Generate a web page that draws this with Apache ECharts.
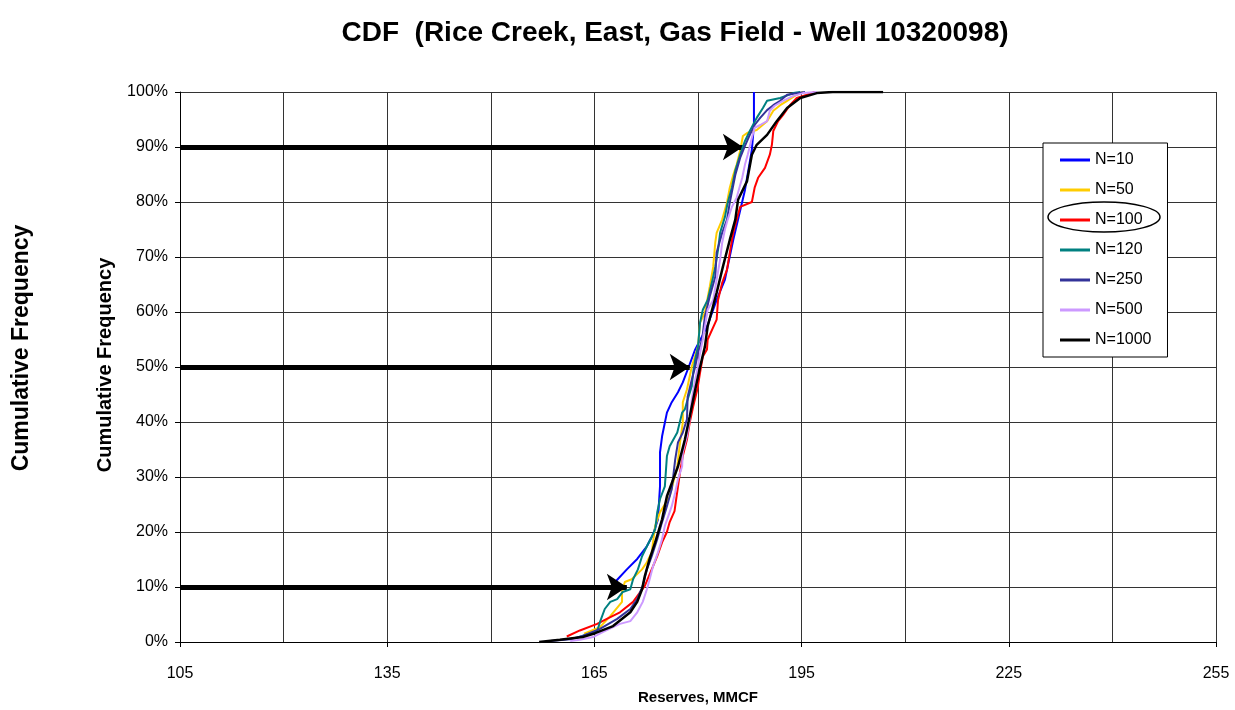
<!DOCTYPE html>
<html>
<head>
<meta charset="utf-8">
<script src="https://cdn.jsdelivr.net/npm/echarts@6/dist/echarts.min.js"></script>
<style>html,body{margin:0;padding:0;background:#fff}#c{width:1235px;height:710px}</style>
</head>
<body>
<div id="c"></div>
<script>
// ---- data (x = Reserves MMCF, y = cumulative frequency %) ----
const seriesNames = ['N=10','N=50','N=100','N=120','N=250','N=500','N=1000'];
const seriesColors = ['#0000FF','#FFCC00','#FF0000','#008080','#333399','#CC99FF','#000000'];

const n10 = [[167.6,10],[168.0,10.9],[169.7,13.2],[171.2,15.1],[172.6,17.4],[173.5,19.6],[174.2,22.3],[174.5,28.3],[174.5,34.5],[174.8,37.4],[175.5,41.7],[176.2,43.6],[177.1,45.4],[177.8,47.2],[178.5,49.5],[179.6,53.2],[181.3,57.3],[182.7,62.2],[183.9,65.9],[185.1,73.1],[186.8,82.2],[187.8,89.5],[188.1,94],[188.1,100]];

const n50 = [[163.5,1.5],[165.8,2.7],[167.3,4.7],[169.0,7.3],[169.0,9.1],[169.4,10.9],[170.4,11.4],[171.9,13.2],[172.6,14.5],[173.3,16.3],[173.8,21.1],[174.5,23.6],[175.9,26.5],[177.0,31.9],[177.4,36.3],[177.8,39.9],[177.8,43.6],[178.4,45.9],[179.1,50.1],[180.0,53.7],[180.3,58.1],[181.0,59.9],[181.7,64.6],[182.2,68.2],[182.5,72.6],[182.7,74.4],[183.5,76.8],[184.2,79.9],[184.6,82.6],[185.1,84.9],[185.6,86.8],[186.1,89.3],[186.5,92.0],[187.2,92.6],[188.5,93.1],[190.0,94.7],[190.9,96.6],[191.9,97.6],[192.9,98.4],[194.3,99.5],[195.2,100]];

const n100 = [[161.0,1.0],[162.9,2.1],[165.4,3.3],[166.8,4.2],[168.7,5.4],[170.6,7.3],[172.3,10.2],[173.3,13.2],[174.1,15.6],[174.8,18.1],[175.5,20.0],[175.9,21.8],[176.6,23.8],[176.9,26.5],[177.4,30.9],[177.8,33.8],[178.4,36.8],[178.8,39.9],[179.3,42.8],[179.9,45.9],[180.3,49.0],[180.7,51.9],[181.3,53.2],[181.4,55.0],[182.7,58.6],[182.9,62.2],[183.5,65.3],[184.2,67.7],[184.6,70.8],[185.1,74.4],[185.6,76.8],[186.1,79.1],[187.8,80.0],[188.2,82.6],[188.7,84.4],[189.7,86.2],[190.4,88.6],[190.7,90.4],[190.9,92.9],[191.6,94.7],[192.3,95.8],[193.3,97.6],[194.3,98.9],[195.8,99.5],[196.9,100]];

const n120 = [[162.5,0.8],[165.4,2.0],[165.8,3.6],[166.5,6.0],[167.3,7.3],[168.3,7.8],[169.1,9.1],[170.2,9.6],[170.6,11.4],[171.3,13.2],[171.9,15.6],[172.6,17.4],[173.3,19.1],[173.8,20.5],[174.1,23.6],[174.5,26.0],[175.2,28.3],[175.5,33.8],[175.9,35.6],[177.0,38.1],[177.7,41.7],[178.1,42.3],[178.5,44.1],[179.1,46.5],[179.3,49.0],[179.6,51.4],[180.0,53.7],[180.3,58.1],[180.7,60.4],[181.4,62.2],[182.0,65.3],[182.5,68.2],[182.9,71.3],[183.2,74.4],[183.9,77.3],[184.3,79.9],[184.9,82.6],[185.4,85.7],[186.1,88.6],[186.8,91.1],[187.5,92.9],[188.5,95.3],[189.4,97.1],[190.0,98.4],[191.9,98.9],[193.8,99.8],[194.8,100]];

const n250 = [[158.6,0.2],[161.5,0.5],[163.3,1.1],[165.8,2.4],[168.3,4.2],[170.2,6.0],[171.2,7.8],[172.0,10.2],[172.6,13.2],[173.3,15.6],[174.1,18.7],[174.8,21.8],[175.5,24.7],[176.2,27.8],[176.7,33.2],[177.1,36.3],[177.8,38.1],[178.4,40.5],[178.5,44.6],[179.1,47.7],[179.6,50.1],[180.0,52.6],[180.6,55.0],[181.0,59.2],[181.7,62.8],[182.5,66.4],[182.7,70.8],[183.5,74.4],[184.2,76.8],[184.6,79.9],[185.4,84.9],[186.1,88.0],[186.8,90.2],[187.5,92.2],[188.2,94.0],[189.0,95.3],[190.0,96.7],[190.9,97.6],[191.9,98.4],[192.9,99.5],[194.5,99.8],[195.5,100]];

const n500 = [[161.5,0.2],[162.9,0.4],[164.8,0.9],[166.2,1.8],[167.7,2.7],[168.7,3.3],[170.2,3.8],[171.2,5.4],[172.0,7.3],[172.6,9.6],[173.0,11.4],[173.5,13.8],[174.2,16.3],[174.8,18.7],[175.2,21.1],[175.7,22.9],[176.2,24.7],[176.7,27.2],[177.1,29.6],[177.7,31.9],[177.8,34.5],[178.4,37.4],[178.8,40.5],[179.1,44.1],[179.6,47.7],[180.0,50.1],[180.3,52.6],[180.7,55.0],[181.4,60.4],[182.2,62.2],[182.7,65.9],[183.2,69.5],[183.5,72.6],[183.9,75.0],[184.3,76.8],[184.9,79.1],[185.6,80.8],[186.4,84.4],[186.8,86.8],[187.2,88.6],[187.8,91.7],[188.2,93.5],[189.0,94.0],[190.0,94.7],[190.4,96.6],[191.1,97.5],[192.3,98.4],[193.8,99.3],[195.2,99.8],[197.2,100]];

const n1000 = [[157.0,0],[157.1,0.2],[160.0,0.4],[163.3,0.9],[165.1,1.6],[167.7,2.9],[170.2,5.4],[171.2,7.3],[171.9,9.6],[172.3,12.0],[173.0,15.1],[173.8,18.1],[174.8,22.3],[175.5,26.5],[177.1,31.9],[178.1,36.8],[178.8,41.0],[179.6,45.9],[180.3,50.0],[181.0,53.7],[181.4,57.4],[182.7,63.5],[183.6,68.2],[184.6,73.1],[185.4,76.8],[185.8,80.4],[187.1,83.8],[187.8,88.6],[188.5,90.4],[190.0,92.2],[191.4,94.7],[192.9,97.1],[194.8,98.9],[197.2,99.8],[199.5,100],[206.8,100]];

const allSeries = [n10, n50, n100, n120, n250, n500, n1000];

// arrows: horizontal pointers at these cumulative levels, ending at these reserves
const arrowLevels = [90, 50, 10];
const arrowEnds = [186.5, 178.8, 169.7];

const xMin = 105, xMax = 255, xLabelStep = 30, xGridStep = 15;
const yMin = 0, yMax = 100, yStep = 10;

const FONT = '"Liberation Sans", Arial, sans-serif';

const chart = echarts.init(document.getElementById('c'), null, {renderer: 'canvas'});

const series = allSeries.map((d, i) => ({
  name: seriesNames[i],
  type: 'line',
  data: d,
  xAxisIndex: 0,
  yAxisIndex: 0,
  symbol: 'none',
  smooth: false,
  animation: false,
  lineStyle: {color: seriesColors[i], width: i === 6 ? 2.5 : 2},
  itemStyle: {color: seriesColors[i]},
  z: 2 + i
}));

series.push({
  name: 'arrows',
  type: 'line',
  data: [],
  xAxisIndex: 0,
  yAxisIndex: 0,
  animation: false,
  z: 20,
  markLine: {
    silent: true,
    animation: false,
    symbol: ['none', 'arrow'],
    symbolSize: 20,
    label: {show: false},
    lineStyle: {color: '#000', width: 5, type: 'solid'},
    data: arrowLevels.map((lv, i) => [{coord: [xMin, lv]}, {coord: [arrowEnds[i], lv]}])
  }
});

chart.setOption({
  backgroundColor: '#fff',
  animation: false,
  grid: {left: 180, right: 19, top: 92, bottom: 67, containLabel: false},
  xAxis: [
    {
      type: 'value', min: xMin, max: xMax, interval: xLabelStep, position: 'bottom',
      axisLine: {show: true, onZero: false, lineStyle: {color: '#000', width: 1}},
      axisTick: {show: true, length: 5, lineStyle: {color: '#000'}},
      axisLabel: {color: '#000', fontSize: 16, fontFamily: FONT, margin: 24},
      splitLine: {show: false},
      name: 'Reserves, MMCF', nameLocation: 'middle', nameGap: 48,
      nameTextStyle: {color: '#000', fontSize: 15, fontWeight: 'bold', fontFamily: FONT}
    },
    {
      type: 'value', min: xMin, max: xMax, interval: xGridStep, position: 'bottom',
      axisLine: {show: false}, axisTick: {show: false}, axisLabel: {show: false},
      splitLine: {show: true, lineStyle: {color: '#333', width: 1}}
    }
  ],
  yAxis: {
    type: 'value', min: yMin, max: yMax, interval: yStep,
    axisLine: {show: true, lineStyle: {color: '#000', width: 1}},
    axisTick: {show: true, length: 5, lineStyle: {color: '#000'}},
    axisLabel: {color: '#000', fontSize: 16, fontFamily: FONT, margin: 12, formatter: '{value}%'},
    splitLine: {show: true, lineStyle: {color: '#333', width: 1}}
  },
  legend: {
    data: seriesNames,
    orient: 'vertical',
    icon: 'rect',
    left: 1043, top: 143,
    padding: [8, 16, 8, 17],
    itemGap: 12,
    itemWidth: 30,
    itemHeight: 3,
    backgroundColor: '#fff',
    borderColor: '#000',
    borderWidth: 1,
    borderRadius: 0,
    textStyle: {color: '#000', fontSize: 16, fontFamily: FONT, lineHeight: 18}
  },
  graphic: [
    {type: 'text', x: 675, y: 33, z: 50,
     style: {text: 'CDF  (Rice Creek, East, Gas Field - Well 10320098)', font: 'bold 28px ' + FONT, fill: '#000', align: 'center', verticalAlign: 'middle'}},
    {type: 'text', x: 22, y: 348, rotation: Math.PI / 2, z: 50,
     style: {text: 'Cumulative Frequency', font: 'bold 23px ' + FONT, fill: '#000', align: 'center', verticalAlign: 'middle'}},
    {type: 'text', x: 105, y: 365, rotation: Math.PI / 2, z: 50,
     style: {text: 'Cumulative Frequency', font: 'bold 20px ' + FONT, fill: '#000', align: 'center', verticalAlign: 'middle'}},
    {type: 'ellipse', z: 100, shape: {cx: 1104, cy: 217, rx: 56, ry: 15},
     style: {fill: 'transparent', stroke: '#000', lineWidth: 1.5}}
  ],
  series: series
});
</script>
</body>
</html>
